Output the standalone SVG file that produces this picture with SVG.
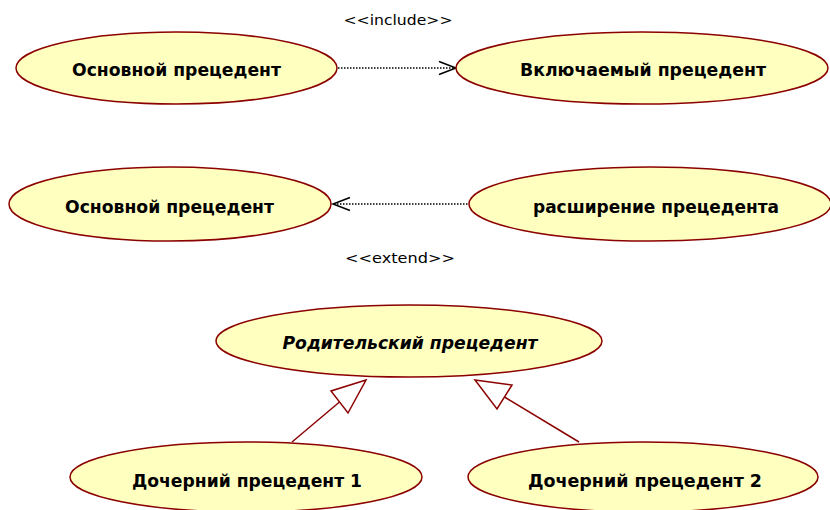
<svg xmlns="http://www.w3.org/2000/svg" width="830" height="510" viewBox="0 0 830 510">
<style>
.uc{fill:#FFFFC0;stroke:#8B0000;stroke-width:1.5}
.t{font-family:"DejaVu Sans","Liberation Sans",sans-serif;font-weight:bold;font-size:17px;fill:#000;text-anchor:middle}
.it{font-style:italic}
.lbl{font-family:"DejaVu Sans","Liberation Sans",sans-serif;font-size:14px;fill:#000;text-anchor:middle}
.dot{fill:none;stroke:#000;stroke-width:1.3;stroke-dasharray:1.5 1.5}
.head{fill:none;stroke:#000;stroke-width:1.5}
.gen{fill:none;stroke:#8B0000;stroke-width:1.5}
.tri{fill:#fff;stroke:#8B0000;stroke-width:1.5}
</style>
<rect width="830" height="510" fill="#fff"/>
<g id="connectors">
<g id="include">
<line class="dot" x1="338" y1="68" x2="455" y2="68"/>
<polyline class="head" points="439,61.5 456,68 439,74.5"/>
<text class="lbl" x="398" y="25" textLength="109" lengthAdjust="spacingAndGlyphs">&lt;&lt;include&gt;&gt;</text>
</g>
<g id="extend">
<line class="dot" x1="334" y1="204" x2="468" y2="204"/>
<polyline class="head" points="350,197.5 333,204 350,210.5"/>
<text class="lbl" x="400" y="263" textLength="110" lengthAdjust="spacingAndGlyphs">&lt;&lt;extend&gt;&gt;</text>
</g>
<g id="gen1">
<line class="gen" x1="292" y1="442" x2="339.5" y2="402"/>
<polygon class="tri" points="366,380 331,391 348,413"/>
</g>
<g id="gen2">
<line class="gen" x1="579" y1="442" x2="504.5" y2="397"/>
<polygon class="tri" points="475,380 512,385 497,409"/>
</g>
</g>
<g id="base1">
<ellipse class="uc" cx="176.5" cy="68" rx="160.5" ry="36"/>
<text class="t" x="176.5" y="76" textLength="209" lengthAdjust="spacingAndGlyphs">Основной прецедент</text>
</g>
<g id="included">
<ellipse class="uc" cx="642" cy="68" rx="186" ry="36"/>
<text class="t" x="643" y="76" textLength="246" lengthAdjust="spacingAndGlyphs">Включаемый прецедент</text>
</g>
<g id="base2">
<ellipse class="uc" cx="170" cy="204" rx="161" ry="37"/>
<text class="t" x="169.5" y="213" textLength="209" lengthAdjust="spacingAndGlyphs">Основной прецедент</text>
</g>
<g id="extension">
<ellipse class="uc" cx="650" cy="204" rx="181" ry="37"/>
<text class="t" x="656" y="213" textLength="246" lengthAdjust="spacingAndGlyphs">расширение прецедента</text>
</g>
<g id="parent">
<ellipse class="uc" cx="409" cy="341" rx="193" ry="36"/>
<text class="t it" x="410" y="349" textLength="255" lengthAdjust="spacingAndGlyphs">Родительский прецедент</text>
</g>
<g id="child1">
<ellipse class="uc" cx="246" cy="477" rx="176" ry="35"/>
<text class="t" x="247" y="487" textLength="230" lengthAdjust="spacingAndGlyphs">Дочерний прецедент 1</text>
</g>
<g id="child2">
<ellipse class="uc" cx="643" cy="477" rx="175" ry="35"/>
<text class="t" x="645" y="487" textLength="234" lengthAdjust="spacingAndGlyphs">Дочерний прецедент 2</text>
</g>
</svg>
